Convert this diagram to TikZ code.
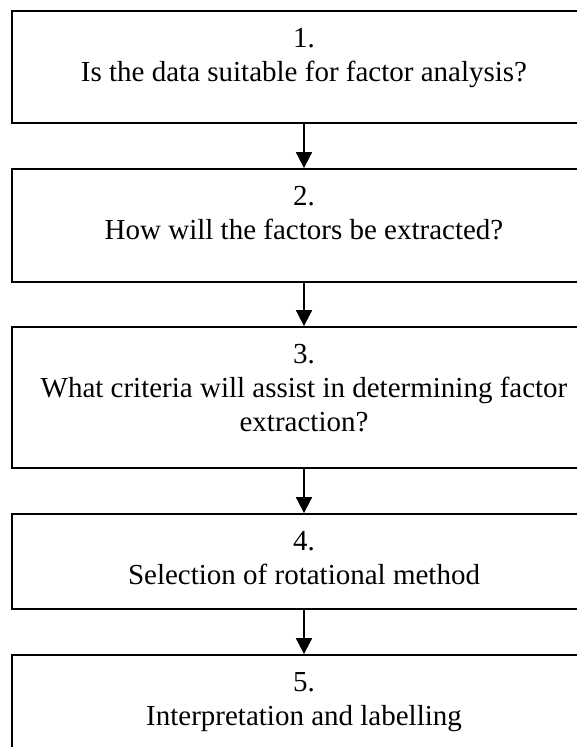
\documentclass[tikz,border=0pt]{standalone}
\usepackage{fontspec}
\setmainfont{Liberation Serif}
\usetikzlibrary{arrows.meta}
\begin{document}
\begin{tikzpicture}[x=1pt,y=-1pt,
  stepbox/.style={draw=black, line width=1.8pt, minimum width=584pt, inner sep=0pt},
  steptext/.style={anchor=north, align=center, inner sep=0pt, font=\fontsize{29}{34}\selectfont},
  flowarrow/.style={line width=1.8pt, -{Triangle[length=16pt,width=16pt]}}]
\useasboundingbox (0,0) rectangle (577,747);
\clip (0,0) rectangle (577,747);

% step boxes (they run past the right and bottom page edges)
\node[stepbox, minimum height=112pt] (b1) at (304,67) {};
\node[stepbox, minimum height=113pt] (b2) at (304,225.5) {};
\node[stepbox, minimum height=141pt] (b3) at (304,397.5) {};
\node[stepbox, minimum height=95pt]  (b4) at (304,561.5) {};
\node[stepbox, minimum height=150pt] (b5) at (304,730) {};

% step texts, set from the top of each box
\node[steptext] (t1) at ([yshift=-18pt]b1.north) {1.\\Is the data suitable for factor analysis?};
\node[steptext] (t2) at ([yshift=-18pt]b2.north) {2.\\How will the factors be extracted?};
\node[steptext] (t3) at ([yshift=-18pt]b3.north) {3.\\What criteria will assist in determining factor\\extraction?};
\node[steptext] (t4) at ([yshift=-18pt]b4.north) {4.\\Selection of rotational method};
\node[steptext] (t5) at ([yshift=-18pt]b5.north) {5.\\Interpretation and labelling};

% connectors
\draw[flowarrow] (b1) -- (b2);
\draw[flowarrow] (b2) -- (b3);
\draw[flowarrow] (b3) -- (b4);
\draw[flowarrow] (b4) -- (b5);
\end{tikzpicture}
\end{document}
